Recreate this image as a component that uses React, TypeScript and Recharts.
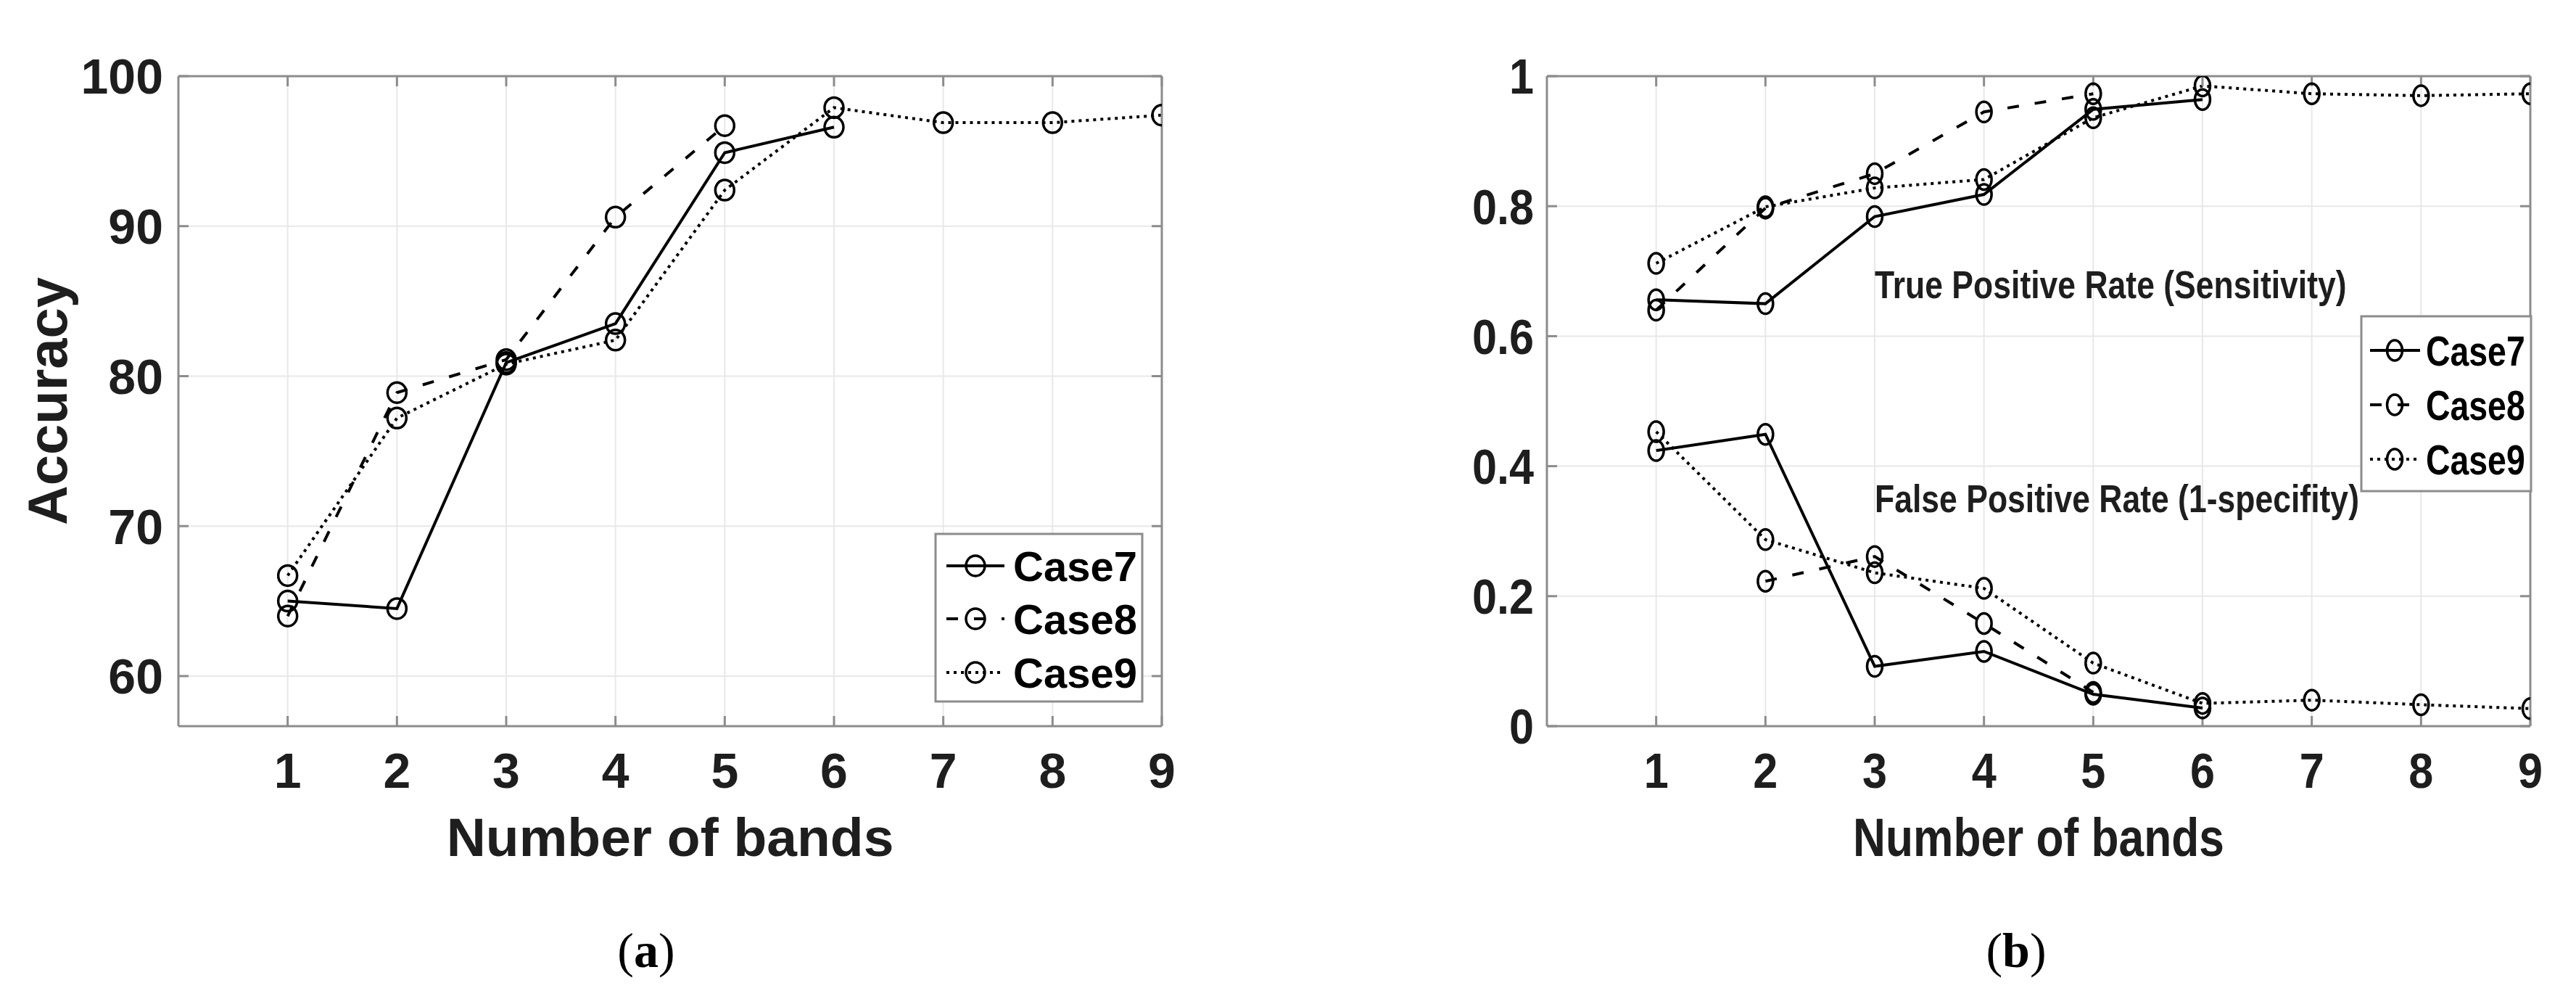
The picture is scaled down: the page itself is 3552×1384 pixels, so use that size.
import React from "react";
import { LineChart, Line, XAxis, YAxis, CartesianGrid, ReferenceDot } from "recharts";

// ---- data ----
const bands = [1, 2, 3, 4, 5, 6, 7, 8, 9];

// (a) accuracy
const accCase7 = [65.0, 64.5, 80.9, 83.5, 94.9, 96.6, null, null, null];
const accCase8 = [64.0, 78.9, 81.1, 90.6, 96.7, null, null, null, null];
const accCase9 = [66.7, 77.2, 80.8, 82.4, 92.4, 97.9, 96.9, 96.9, 97.4];

// (b) true / false positive rates
const tprCase7 = [0.656, 0.65, 0.784, 0.818, 0.949, 0.964, null, null, null];
const tprCase8 = [0.64, 0.797, 0.85, 0.945, 0.973, null, null, null, null];
const tprCase9 = [0.712, 0.799, 0.828, 0.841, 0.936, 0.985, 0.973, 0.97, 0.973];
const fprCase7 = [0.424, 0.449, 0.092, 0.115, 0.049, 0.028, null, null, null];
const fprCase8 = [null, 0.223, 0.261, 0.158, 0.052, null, null, null, null];
const fprCase9 = [0.453, 0.287, 0.236, 0.212, 0.097, 0.035, 0.04, 0.033, 0.027];

const caseNames = ["Case7", "Case8", "Case9"];
const caseDash = ["", "16 22", "4 6"];

const accTicks = [60, 70, 80, 90, 100];
const rateTicks = [0, 0.2, 0.4, 0.6, 0.8, 1];

const annotations = [
  { x: 3, y: 0.68, text: "True Positive Rate (Sensitivity)" },
  { x: 3, y: 0.35, text: "False Positive Rate (1-specifity)" },
];

const accData = bands.map((b, i) => ({ band: b, c7: accCase7[i], c8: accCase8[i], c9: accCase9[i] }));
const rateData = bands.map((b, i) => ({
  band: b,
  t7: tprCase7[i], t8: tprCase8[i], t9: tprCase9[i],
  f7: fprCase7[i], f8: fprCase8[i], f9: fprCase9[i],
}));

// ---- styling ----
const FONT = "'Liberation Sans', Arial, Helvetica, sans-serif";
const INK = "#1e1e1e";
const AXIS = "#8c8c8c";
const GRID = "#e8e8e8";
const RIGHT_OFFSET = 1887;
const LINE_W = 4;

const makeDot = (rx: number, ry: number) => (p: any) => {
  if (p.cx == null || p.cy == null || p.value == null) return <g key={`n-${p.index}`} />;
  return <ellipse key={`d-${p.index}`} cx={p.cx} cy={p.cy} rx={rx} ry={ry} fill="none" stroke="#000" strokeWidth={3.5} />;
};

const xTick = (sx: number) => (p: any) => (
  <g transform={`translate(${p.x},${p.y}) scale(${sx},1)`}>
    <text x={0} y={0} dy="0.72em" textAnchor="middle" fontSize={68} fontWeight="bold" fontFamily={FONT} fill={INK}>
      {p.payload.value}
    </text>
  </g>
);

const yTick = (sx: number) => (p: any) => (
  <g transform={`translate(${p.x},${p.y}) scale(${sx},1)`}>
    <text x={0} y={0} dy="0.36em" textAnchor="end" fontSize={68} fontWeight="bold" fontFamily={FONT} fill={INK}>
      {p.payload.value}
    </text>
  </g>
);

const noTick = () => <g />;

const xTitle = (sx: number) => (p: any) => {
  const vb = p.viewBox;
  return (
    <g transform={`translate(${vb.x + vb.width / 2},${vb.y + 179}) scale(${sx},1)`}>
      <text x={0} y={0} textAnchor="middle" fontSize={75} fontWeight="bold" fontFamily={FONT} fill={INK}>
        Number of bands
      </text>
    </g>
  );
};

const yTitle = (p: any) => {
  const vb = p.viewBox;
  return (
    <text
      transform={`translate(92,${vb.y + vb.height / 2}) rotate(-90)`}
      textAnchor="middle"
      fontSize={76}
      fontWeight="bold"
      fontFamily={FONT}
      fill={INK}
    >
      Accuracy
    </text>
  );
};

const annotationLabel = (text: string) => (p: any) => {
  const vb = p.viewBox;
  return (
    <g transform={`translate(${vb.x + vb.width / 2},${vb.y + vb.height / 2}) scale(0.84,1)`}>
      <text x={0} y={0} dy="0.36em" fontSize={53} fontWeight="bold" fontFamily={FONT} fill={INK}>
        {text}
      </text>
    </g>
  );
};

const margin = { top: 95, right: 88, bottom: 133, left: 46 };

function AccuracyChart() {
  return (
    <LineChart width={1700} height={1384} data={accData} margin={margin}>
      <CartesianGrid stroke={GRID} strokeWidth={2} />
      <XAxis
        dataKey="band" type="number" domain={[0, 9]} ticks={bands} allowDataOverflow
        height={250} stroke={AXIS} strokeWidth={3} tickSize={-14} tickMargin={50}
        tick={xTick(1)} label={xTitle(1)}
      />
      <XAxis
        xAxisId="t" orientation="top" dataKey="band" type="number" domain={[0, 9]} ticks={bands} allowDataOverflow
        height={10} stroke={AXIS} strokeWidth={3} tickSize={-14} tick={noTick}
      />
      <YAxis
        type="number" domain={[56.66, 100]} ticks={accTicks} allowDataOverflow
        width={200} stroke={AXIS} strokeWidth={3} tickSize={-14} tickMargin={35}
        tick={yTick(1)} label={yTitle}
      />
      <YAxis
        yAxisId="r" orientation="right" type="number" domain={[56.66, 100]} ticks={accTicks} allowDataOverflow
        width={10} stroke={AXIS} strokeWidth={3} tickSize={-14} tick={noTick}
      />
      {["c7", "c8", "c9"].map((k, i) => (
        <Line
          key={k} dataKey={k} name={caseNames[i]} stroke="#000" strokeWidth={LINE_W}
          strokeDasharray={caseDash[i] || undefined} dot={makeDot(13, 14)} activeDot={false}
          isAnimationActive={false} connectNulls={false}
        />
      ))}
    </LineChart>
  );
}

function RatesChart() {
  const w = 3552 - RIGHT_OFFSET;
  return (
    <LineChart width={w} height={1384} data={rateData} margin={{ ...margin, right: w - 1602 - 10 }}>
      <CartesianGrid stroke={GRID} strokeWidth={2} />
      <XAxis
        dataKey="band" type="number" domain={[0, 9]} ticks={bands} allowDataOverflow
        height={250} stroke={AXIS} strokeWidth={3} tickSize={-14} tickMargin={50}
        tick={xTick(0.9)} label={xTitle(0.83)}
      />
      <XAxis
        xAxisId="t" orientation="top" dataKey="band" type="number" domain={[0, 9]} ticks={bands} allowDataOverflow
        height={10} stroke={AXIS} strokeWidth={3} tickSize={-14} tick={noTick}
      />
      <YAxis
        type="number" domain={[0, 1]} ticks={rateTicks} allowDataOverflow
        width={200} stroke={AXIS} strokeWidth={3} tickSize={-14} tickMargin={32}
        tick={yTick(0.9)}
      />
      <YAxis
        yAxisId="r" orientation="right" type="number" domain={[0, 1]} ticks={rateTicks} allowDataOverflow
        width={10} stroke={AXIS} strokeWidth={3} tickSize={-14} tick={noTick}
      />
      {annotations.map((a) => (
        <ReferenceDot key={a.text} x={a.x} y={a.y} r={0} fill="none" stroke="none" label={annotationLabel(a.text)} />
      ))}
      {["t", "f"].flatMap((pre) =>
        ["7", "8", "9"].map((c, i) => (
          <Line
            key={pre + c} dataKey={pre + c} name={caseNames[i]} stroke="#000" strokeWidth={LINE_W}
            strokeDasharray={caseDash[i] || undefined} dot={makeDot(10.5, 14)} activeDot={false}
            isAnimationActive={false} connectNulls={false}
          />
        ))
      )}
    </LineChart>
  );
}

interface LegendSpec {
  x: number; y: number; w: number; h: number;
  rowY: number[]; lineX0: number; lineX1: number; markX: number; textX: number;
  sx: number; rx: number;
}

function LegendBox({ s }: { s: LegendSpec }) {
  return (
    <g>
      <rect x={s.x} y={s.y} width={s.w} height={s.h} fill="#fff" stroke={AXIS} strokeWidth={3} />
      {caseNames.map((name, i) => (
        <g key={name}>
          <line
            x1={s.lineX0} x2={s.lineX1} y1={s.rowY[i]} y2={s.rowY[i]} stroke="#000" strokeWidth={LINE_W}
            strokeDasharray={caseDash[i] || undefined}
          />
          <ellipse cx={s.markX} cy={s.rowY[i]} rx={s.rx} ry={14} fill="none" stroke="#000" strokeWidth={3.5} />
          <g transform={`translate(${s.textX},${s.rowY[i]}) scale(${s.sx},1)`}>
            <text x={0} y={0} dy="0.36em" fontSize={58} fontWeight="bold" fontFamily={FONT} fill="#000">
              {name}
            </text>
          </g>
        </g>
      ))}
    </g>
  );
}

const leftLegend: LegendSpec = {
  x: 1290, y: 736, w: 285, h: 231, rowY: [780, 853, 927],
  lineX0: 1305, lineX1: 1385, markX: 1345, textX: 1397, sx: 1, rx: 13,
};
const rightLegend: LegendSpec = {
  x: 3256, y: 436, w: 234, h: 241, rowY: [483, 558, 633],
  lineX0: 3268, lineX1: 3337, markX: 3302, textX: 3345, sx: 0.8, rx: 10.5,
};

const captionStyle: React.CSSProperties = {
  position: "absolute",
  top: 1270,
  width: 200,
  textAlign: "center",
  fontFamily: "'Liberation Serif', 'Times New Roman', serif",
  fontSize: 68,
  lineHeight: "80px",
  color: "#000",
};

export default function App() {
  return (
    <div style={{ position: "absolute", left: 0, top: 0, width: 3552, height: 1384, background: "#fff", overflow: "hidden" }}>
      <div style={{ position: "absolute", left: 0, top: 0 }}>
        <AccuracyChart />
      </div>
      <div style={{ position: "absolute", left: RIGHT_OFFSET, top: 0 }}>
        <RatesChart />
      </div>
      <svg width={3552} height={1384} style={{ position: "absolute", left: 0, top: 0, pointerEvents: "none" }}>
        <LegendBox s={leftLegend} />
        <LegendBox s={rightLegend} />
      </svg>
      <div style={{ ...captionStyle, left: 891 - 100 }}>
        (<b>a</b>)
      </div>
      <div style={{ ...captionStyle, left: 2780 - 100 }}>
        (<b>b</b>)
      </div>
    </div>
  );
}
